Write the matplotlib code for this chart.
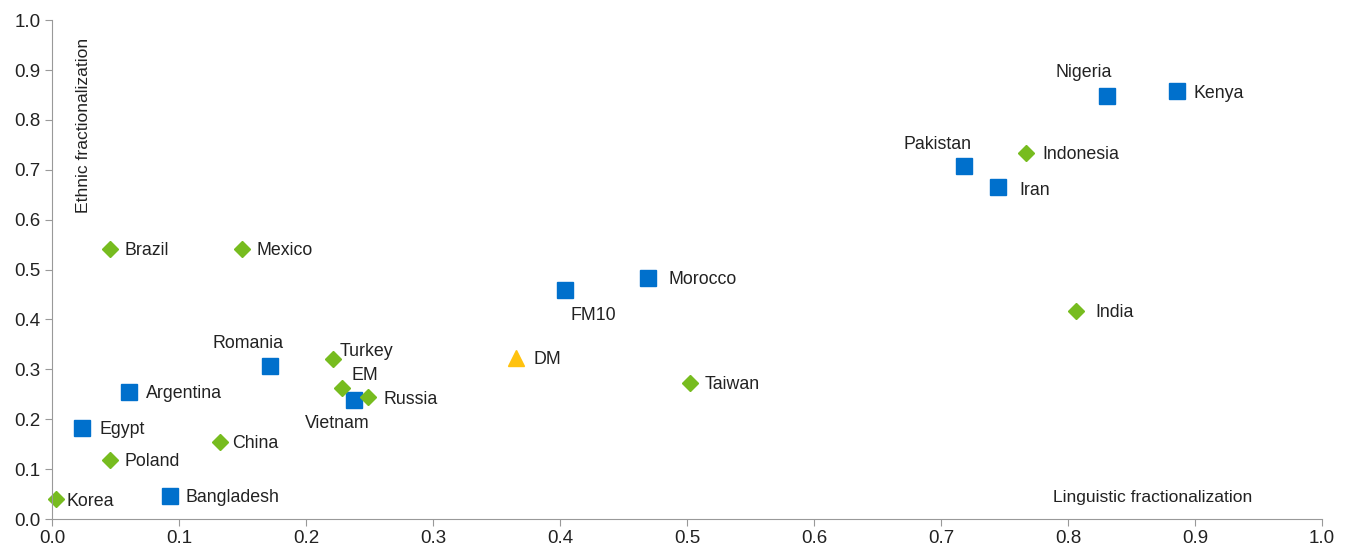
import matplotlib.pyplot as plt

plt.rcParams['font.family'] = ['Liberation Sans', 'DejaVu Sans']

# country groups: blue squares, green diamonds, yellow triangle
sq_names = ['Egypt', 'Argentina', 'Bangladesh', 'Romania', 'Vietnam', 'FM10',
            'Morocco', 'Pakistan', 'Iran', 'Nigeria', 'Kenya']
sq_x = [0.024, 0.061, 0.093, 0.172, 0.238, 0.404, 0.469, 0.718, 0.745, 0.831, 0.886]
sq_y = [0.182, 0.254, 0.046, 0.307, 0.238, 0.459, 0.483, 0.708, 0.666, 0.848, 0.858]

dm_names = ['Korea', 'Poland', 'Brazil', 'Mexico', 'China', 'Turkey', 'EM',
            'Russia', 'Taiwan', 'Indonesia', 'India']
dm_x = [0.003, 0.046, 0.046, 0.150, 0.132, 0.221, 0.228, 0.249, 0.502, 0.767, 0.806]
dm_y = [0.040, 0.118, 0.541, 0.541, 0.154, 0.321, 0.263, 0.245, 0.273, 0.733, 0.417]

tri_names = ['DM']
tri_x = [0.365]
tri_y = [0.323]

# label offsets in points (dx, dy, ha)
offsets = {
    'Korea': (8, -2, 'left'), 'Poland': (10, -1, 'left'), 'Brazil': (10, -1, 'left'),
    'Mexico': (10, -1, 'left'), 'China': (9, -1, 'left'), 'Egypt': (12, -1, 'left'),
    'Argentina': (12, -1, 'left'), 'Bangladesh': (11, -1, 'left'),
    'Romania': (-16, 16, 'center'), 'Turkey': (5, 5, 'left'), 'EM': (7, 9, 'left'),
    'Vietnam': (-12, -17, 'center'), 'Russia': (11, -2, 'left'), 'DM': (13, -1, 'left'),
    'FM10': (20, -18, 'center'), 'Morocco': (15, -1, 'left'), 'Taiwan': (11, -1, 'left'),
    'Pakistan': (-19, 15, 'center'), 'Iran': (15, -3, 'left'), 'Indonesia': (12, -1, 'left'),
    'Nigeria': (-17, 17, 'center'), 'Kenya': (12, -2, 'left'), 'India': (14, -1, 'left'),
}

fig = plt.figure(figsize=(13.49, 5.51), dpi=100)
ax = fig.add_axes([0.0385, 0.058, 0.9415, 0.9055])

ax.plot(sq_x, sq_y, 's', ms=11.5, color='#0070CC', mec='#0070CC', ls='none', clip_on=False)
ax.plot(dm_x, dm_y, 'D', ms=8, color='#77BC1F', mec='#77BC1F', ls='none', clip_on=False)
ax.plot(tri_x, tri_y, '^', ms=12, color='#FFC20E', mec='#FFC20E', ls='none', clip_on=False)

for names, xs, ys in [(sq_names, sq_x, sq_y), (dm_names, dm_x, dm_y), (tri_names, tri_x, tri_y)]:
    for n, x, y in zip(names, xs, ys):
        dx, dy, ha = offsets[n]
        ax.annotate(n, (x, y), xytext=(dx, dy), textcoords='offset points',
                    ha=ha, va='center', fontsize=12.8, color='#222222')

ax.set_xlim(0, 1)
ax.set_ylim(0, 1)
ax.set_xticks([i / 10 for i in range(11)])
ax.set_yticks([i / 10 for i in range(11)])
ax.xaxis.set_major_formatter(plt.FormatStrFormatter('%.1f'))
ax.yaxis.set_major_formatter(plt.FormatStrFormatter('%.1f'))
ax.spines['top'].set_visible(False)
ax.spines['right'].set_visible(False)
for s in ['left', 'bottom']:
    ax.spines[s].set_color('#999999')
ax.tick_params(colors='#999999', labelcolor='#222222', labelsize=13.5, length=5,
               direction='out', pad=3)

ax.text(0.025, 0.965, 'Ethnic fractionalization', transform=ax.transAxes, rotation=90,
        ha='center', va='top', fontsize=12.6, color='#222222')
ax.text(0.945, 0.043, 'Linguistic fractionalization', transform=ax.transAxes,
        ha='right', va='center', fontsize=12.6, color='#222222')

fig.savefig('out.png', dpi=100)
